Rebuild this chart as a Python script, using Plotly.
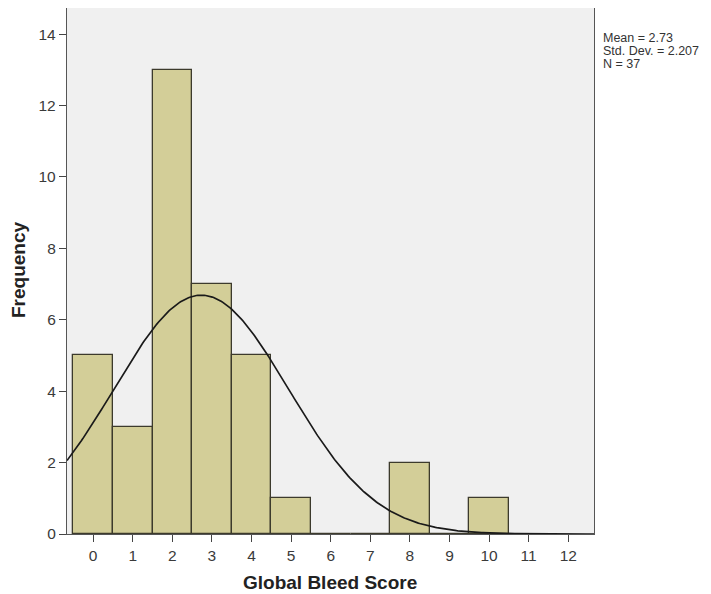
import numpy as np
import plotly.graph_objects as go

scores = [0, 1, 2, 3, 4, 5, 6, 7, 8, 9, 10]
frequency = [5, 3, 13, 7, 5, 1, 0, 0, 2, 0, 1]
x_ticks = list(range(0, 13))
y_ticks = [0, 2, 4, 6, 8, 10, 12, 14]
mean_val = 2.73
sd_val = 2.207
n_val = 37
stats_lines = [f"Mean = {mean_val}", f"Std. Dev. = {sd_val}", f"N = {n_val}"]

x_range = [-0.66, 12.65]
y_range = [0, 14.73]

xs = np.linspace(x_range[0], x_range[1], 400)
ys = n_val * 1.0 / (sd_val * np.sqrt(2 * np.pi)) * np.exp(-0.5 * ((xs - mean_val) / sd_val) ** 2)

fig = go.Figure()
fig.add_trace(go.Bar(
    x=scores, y=frequency, width=1.0,
    marker=dict(color="#d3ce98", line=dict(color="#3c3a2c", width=1.3)),
    showlegend=False, hoverinfo="x+y"
))
fig.add_trace(go.Scatter(
    x=xs, y=ys, mode="lines",
    line=dict(color="#1a1a1a", width=1.7),
    showlegend=False, hoverinfo="skip"
))

annotations = [
    dict(xref="paper", yref="paper", x=-0.091, y=0.502, xanchor="center", yanchor="middle",
         textangle=-90, showarrow=False, text="<b>Frequency</b>",
         font=dict(size=19, color="#222222")),
    dict(xref="paper", yref="paper", x=0.499, y=-0.093, xanchor="center", yanchor="middle",
         showarrow=False, text="<b>Global Bleed Score</b>",
         font=dict(size=19, color="#222222")),
]
for i, line in enumerate(stats_lines):
    annotations.append(dict(
        xref="paper", yref="paper", x=1.013, y=0.943 - i * 0.0248,
        xanchor="left", yanchor="middle", align="left", showarrow=False,
        text=line, font=dict(size=12.5, color="#333333"),
    ))

fig.update_layout(
    width=703, height=586,
    margin=dict(l=59, r=117, t=0, b=60, autoexpand=False),
    paper_bgcolor="white",
    plot_bgcolor="#f0f0f0",
    font=dict(family="Liberation Sans, Arial, sans-serif", color="#333333"),
    bargap=0,
    xaxis=dict(
        range=x_range, tickvals=x_ticks, ticktext=[str(t) for t in x_ticks],
        ticks="outside", ticklen=7, tickcolor="#444444", tickwidth=1.3,
        showline=True, linecolor="#555555", linewidth=1.3, mirror=True,
        showgrid=False, zeroline=False, automargin=False,
        tickfont=dict(size=15.5, color="#3a3a3a"),
    ),
    yaxis=dict(
        range=y_range, tickvals=y_ticks,
        ticks="outside", ticklen=7, tickcolor="#444444", tickwidth=1.3,
        showline=True, linecolor="#555555", linewidth=1.3, mirror=True,
        showgrid=False, zeroline=False, automargin=False,
        tickfont=dict(size=15.5, color="#3a3a3a"),
    ),
    annotations=annotations,
)

fig.write_html("out.html")
